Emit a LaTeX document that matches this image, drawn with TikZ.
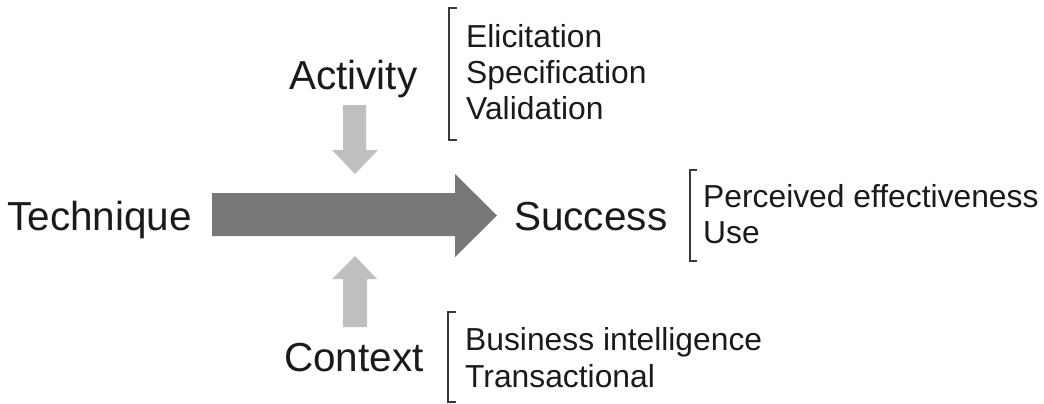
\documentclass[tikz,border=0pt]{standalone}
\usepackage{fontspec}
\setmainfont{Liberation Sans}
\definecolor{bigarrow}{HTML}{777777}
\definecolor{smallarrow}{HTML}{BFBFBF}
\definecolor{txt}{HTML}{1A1A1A}
\definecolor{brk}{HTML}{3A3A3A}
\begin{document}
\begin{tikzpicture}[x=1pt,y=-1pt,
  big/.style={inner sep=0pt,anchor=base west,text=txt,font=\fontsize{40.5}{47}\selectfont},
  small/.style={inner sep=0pt,anchor=base west,text=txt,font=\fontsize{31.8}{36}\selectfont},
  bracketline/.style={draw=brk,line width=1.4pt,line cap=butt,line join=miter}]
\useasboundingbox (0,0) rectangle (1044,404);
% labels
\node[big] (tech) at (7,230) {Technique};
\node[big] (succ) at (514,230) {Success};
\node[big] (act) at (289,89) {Activity};
\node[big] (ctx) at (284,371) {Context};
% lists
\node[small] (e1) at (466,48) {Elicitation};
\node[small] (e2) at (466,83.5) {Specification};
\node[small] (e3) at (466,119) {Validation};
\node[small] (s1) at (703,207) {Perceived effectiveness};
\node[small] (s2) at (703,243) {Use};
\node[small] (c1) at (465,350) {Business intelligence};
\node[small] (c2) at (465,387) {Transactional};
% brackets
\draw[bracketline] (457,8) -- (449,8) -- (449,140) -- (457,140);
\draw[bracketline] (697,170) -- (690,170) -- (690,261) -- (697,261);
\draw[bracketline] (456,312) -- (448,312) -- (448,402) -- (456,402);
% big arrow
\fill[bigarrow] (212,193) -- (455,193) -- (455,174) -- (497,215.5) -- (455,257) -- (455,236) -- (212,236) -- cycle;
% down arrow
\fill[smallarrow] (343,105) -- (366,105) -- (366,150) -- (378,150) -- (355,174) -- (332,150) -- (343,150) -- cycle;
% up arrow
\fill[smallarrow] (343,327) -- (367,327) -- (367,279) -- (377,279) -- (355,256) -- (332,279) -- (343,279) -- cycle;
\end{tikzpicture}
\end{document}
